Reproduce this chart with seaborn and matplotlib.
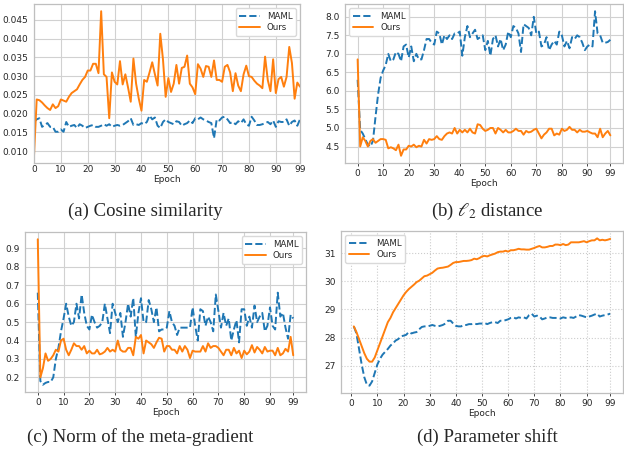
import numpy as np
import pandas as pd
import seaborn as sns
import matplotlib.pyplot as plt
from matplotlib.ticker import MultipleLocator, FormatStrFormatter

# ---- data ----
epochs = list(range(100))
epochs_shift = list(range(1, 100))
xtick_vals = [0, 10, 20, 30, 40, 50, 60, 70, 80, 90, 99]

cos_maml = [0.0178, 0.0185, 0.0188, 0.0165, 0.017, 0.0175, 0.0165, 0.0165, 0.0152, 0.0152,
            0.0158, 0.0152, 0.0178, 0.0165, 0.0168, 0.017, 0.0162, 0.0172, 0.0168, 0.0162,
            0.0165, 0.0168, 0.017, 0.0165, 0.0165, 0.0168, 0.0172, 0.0168, 0.0172, 0.0165,
            0.0168, 0.017, 0.0168, 0.017, 0.0175, 0.018, 0.0188, 0.017, 0.0172, 0.017,
            0.0175, 0.0172, 0.0178, 0.0195, 0.0185, 0.019, 0.0168, 0.0162, 0.0178, 0.0185,
            0.0178, 0.0175, 0.0172, 0.018, 0.0178, 0.0168, 0.0172, 0.0175, 0.0182, 0.0175,
            0.0188, 0.0185, 0.019, 0.0185, 0.0182, 0.0178, 0.0175, 0.0135, 0.0185, 0.0182,
            0.019, 0.0192, 0.0185, 0.0175, 0.0178, 0.0172, 0.018, 0.0175, 0.0185, 0.0172,
            0.0168, 0.0192, 0.0182, 0.017, 0.017, 0.0172, 0.0175, 0.0178, 0.0172, 0.0182,
            0.0165, 0.018, 0.0178, 0.0178, 0.0185, 0.0168, 0.0178, 0.0182, 0.0168, 0.0185]
cos_ours = [0.0088, 0.0238, 0.0236, 0.023, 0.0222, 0.0215, 0.021, 0.0225, 0.0215, 0.022,
            0.0238, 0.0235, 0.0232, 0.0245, 0.0255, 0.026, 0.0265, 0.0278, 0.029, 0.0298,
            0.0315, 0.0315, 0.0333, 0.0333, 0.0308, 0.0473, 0.0305, 0.0298, 0.0188, 0.031,
            0.0285, 0.0278, 0.034, 0.0278, 0.0305, 0.027, 0.0232, 0.0347, 0.028, 0.024,
            0.0208, 0.029, 0.0285, 0.031, 0.0337, 0.0305, 0.0275, 0.0413, 0.0345, 0.0245,
            0.0295, 0.0258, 0.028, 0.033, 0.028, 0.0322, 0.0325, 0.0355, 0.028, 0.027,
            0.0252, 0.0332, 0.032, 0.0298, 0.0327, 0.0325, 0.0298, 0.0342, 0.029, 0.029,
            0.0285, 0.0325, 0.033, 0.031, 0.026, 0.0308, 0.0275, 0.026, 0.0305, 0.0328,
            0.03, 0.0298, 0.0288, 0.028, 0.0275, 0.0268, 0.0352, 0.029, 0.026, 0.0345,
            0.0255, 0.0292, 0.0298, 0.0272, 0.0298, 0.0378, 0.0335, 0.024, 0.0283, 0.0272]

l2_maml = [6.3, 4.95, 4.85, 4.7, 4.55, 4.5, 4.65, 5.3, 5.9, 6.35,
           6.55, 6.7, 7.0, 6.8, 6.85, 7.05, 7.0, 6.8, 7.2, 7.25,
           6.9, 7.2, 6.8, 7.0, 6.85, 6.85, 7.1, 7.4, 7.4, 7.3,
           7.25, 7.6, 7.55, 7.25, 7.5, 7.4, 7.5, 7.4, 7.55, 7.55,
           7.6, 6.95, 7.45, 7.75, 7.45, 7.55, 7.65, 7.4, 7.45, 7.5,
           7.1, 7.35, 6.95, 7.4, 7.5, 7.2, 7.4, 7.1, 7.25, 7.6,
           7.45, 7.75, 7.7, 7.55, 7.05, 7.8, 7.75, 7.7, 7.5, 8.0,
           7.55, 7.6, 7.2, 7.25, 7.45, 7.1, 7.25, 7.35, 7.25, 7.6,
           7.5, 7.2, 7.35, 7.15, 7.45, 7.4, 7.5, 7.45, 7.3, 7.1,
           7.2, 7.25, 7.2, 8.15, 7.55, 7.5, 7.3, 7.3, 7.32, 7.38]
l2_ours = [6.85, 4.5, 4.75, 4.65, 4.5, 4.65, 4.7, 4.6, 4.65, 4.7,
           4.7, 4.68, 4.45, 4.48, 4.45, 4.4, 4.55, 4.25, 4.42, 4.42,
           4.52, 4.5, 4.55, 4.48, 4.52, 4.5, 4.68, 4.58, 4.7, 4.68,
           4.7, 4.78, 4.7, 4.68, 4.78, 4.85, 4.88, 4.85, 5.0, 4.85,
           4.95, 4.88, 4.95, 4.88, 4.98, 4.88, 4.85, 5.1, 5.08, 4.98,
           4.92, 4.95, 5.0, 5.0, 4.85, 5.0, 4.95, 4.88, 4.95, 4.88,
           4.88, 4.92, 4.98, 4.92, 4.92, 4.82, 4.92, 4.88, 4.9, 4.95,
           4.98, 4.85, 4.72, 4.82, 4.88, 4.98, 4.98, 4.8, 4.85, 4.82,
           4.98, 4.92, 4.95, 5.03, 4.95, 4.95, 4.88, 4.95, 4.9, 4.9,
           4.92, 4.88, 4.85, 4.85, 4.75, 4.98, 4.75, 4.85, 4.92, 4.8]

norm_maml = [0.66, 0.18, 0.16, 0.17, 0.175, 0.175, 0.2, 0.3, 0.36, 0.45,
             0.52, 0.6, 0.53, 0.48, 0.5, 0.6, 0.52, 0.65, 0.55, 0.48,
             0.46, 0.54, 0.5, 0.47, 0.48, 0.5, 0.6, 0.52, 0.44, 0.6,
             0.55, 0.5, 0.55, 0.42, 0.5, 0.6, 0.53, 0.63, 0.42, 0.55,
             0.63, 0.5, 0.5, 0.62, 0.57, 0.5, 0.58, 0.45, 0.46, 0.46,
             0.47, 0.56, 0.5, 0.48, 0.43, 0.47, 0.47, 0.47, 0.47, 0.47,
             0.58, 0.48, 0.4, 0.57, 0.56, 0.48, 0.53, 0.5, 0.45, 0.65,
             0.56, 0.47, 0.55, 0.48, 0.52, 0.4, 0.46, 0.51, 0.39, 0.57,
             0.57, 0.48, 0.53, 0.47, 0.59, 0.5, 0.53, 0.55, 0.45, 0.48,
             0.58, 0.48, 0.46, 0.66, 0.53, 0.55, 0.47, 0.41, 0.54, 0.52]
norm_ours = [0.95, 0.2, 0.25, 0.33, 0.29, 0.3, 0.32, 0.35, 0.34, 0.4,
             0.41, 0.35, 0.32, 0.35, 0.385, 0.37, 0.37, 0.35, 0.37, 0.33,
             0.345, 0.33, 0.33, 0.35, 0.325, 0.33, 0.34, 0.36, 0.34, 0.35,
             0.34, 0.4, 0.35, 0.34, 0.34, 0.36, 0.36, 0.32, 0.42, 0.41,
             0.43, 0.33, 0.4, 0.39, 0.38, 0.36, 0.39, 0.415, 0.41, 0.34,
             0.37, 0.37, 0.35, 0.35, 0.33, 0.37, 0.34, 0.37, 0.35, 0.305,
             0.345, 0.34, 0.34, 0.34, 0.37, 0.34, 0.385, 0.36, 0.37, 0.37,
             0.36, 0.34, 0.32, 0.35, 0.35, 0.32, 0.36, 0.33, 0.345, 0.305,
             0.345, 0.325, 0.34, 0.375, 0.335, 0.365, 0.35, 0.33, 0.365, 0.34,
             0.345, 0.345, 0.32, 0.36, 0.32, 0.33, 0.355, 0.34, 0.42, 0.32]

shift_maml = [28.4, 28.15, 27.6, 27.05, 26.6, 26.33, 26.3, 26.45, 26.75,
              27.05, 27.25, 27.4, 27.5, 27.6, 27.72, 27.8, 27.9, 27.95, 28.05,
              28.07, 28.1, 28.2, 28.15, 28.18, 28.2, 28.3, 28.38, 28.4, 28.4,
              28.42, 28.45, 28.42, 28.4, 28.42, 28.45, 28.5, 28.6, 28.6, 28.5,
              28.42, 28.4, 28.4, 28.45, 28.45, 28.48, 28.48, 28.5, 28.48, 28.5,
              28.5, 28.52, 28.48, 28.52, 28.55, 28.55, 28.52, 28.6, 28.6, 28.62,
              28.65, 28.7, 28.72, 28.68, 28.72, 28.7, 28.72, 28.68, 28.8, 28.85,
              28.75, 28.78, 28.75, 28.65, 28.68, 28.72, 28.72, 28.7, 28.7, 28.7,
              28.68, 28.72, 28.7, 28.7, 28.72, 28.7, 28.75, 28.8, 28.78, 28.75,
              28.72, 28.75, 28.78, 28.82, 28.85, 28.75, 28.78, 28.8, 28.82, 28.85]
shift_ours = [28.4, 28.2, 27.95, 27.7, 27.45, 27.25, 27.15, 27.15, 27.3,
              27.55, 27.8, 28.05, 28.3, 28.55, 28.7, 28.9, 29.05, 29.2, 29.35,
              29.5, 29.62, 29.72, 29.8, 29.88, 29.97, 30.02, 30.1, 30.18, 30.2,
              30.25, 30.3, 30.38, 30.45, 30.47, 30.48, 30.5, 30.52, 30.58, 30.65,
              30.68, 30.68, 30.7, 30.72, 30.72, 30.73, 30.75, 30.8, 30.78, 30.82,
              30.88, 30.9, 30.88, 30.92, 30.95, 30.98, 31.03, 31.05, 31.05, 31.08,
              31.05, 31.1, 31.1, 31.12, 31.15, 31.13, 31.13, 31.12, 31.12, 31.15,
              31.18, 31.22, 31.25, 31.2, 31.2, 31.22, 31.25, 31.25, 31.3, 31.3,
              31.28, 31.32, 31.28, 31.3, 31.38, 31.38, 31.38, 31.38, 31.4, 31.42,
              31.38, 31.42, 31.45, 31.45, 31.52, 31.45, 31.47, 31.45, 31.47, 31.5]

captions = ["(a) Cosine similarity", r"(b) $\ell_2$ distance",
            "(c) Norm of the meta-gradient", "(d) Parameter shift"]

sns.set_style("whitegrid", {"axes.edgecolor": ".75", "grid.color": ".82",
                            "xtick.bottom": True, "xtick.color": ".15", "ytick.color": ".15"})
plt.rcParams["mathtext.fontset"] = "stix"

fig = plt.figure(figsize=(6.24, 4.5), dpi=100)
W, H = 624, 450


def add_axes(l, t, r, b):
    return fig.add_axes([l / W, 1 - b / H, (r - l) / W, (b - t) / H])


axes = [add_axes(34, 4, 300, 163), add_axes(345, 4, 623, 163),
        add_axes(25, 232, 306, 392), add_axes(341, 231, 623, 393)]

panels = [(epochs, cos_maml, cos_ours, "upper right", 0.005, "%.3f"),
          (epochs, l2_maml, l2_ours, "upper left", 0.5, "%.1f"),
          (epochs, norm_maml, norm_ours, "upper right", 0.1, "%.1f"),
          (epochs_shift, shift_maml, shift_ours, "upper left", 1, "%d")]

for i, (ax, (x, m, o, loc, step, fmt)) in enumerate(zip(axes, panels)):
    df = pd.DataFrame({"Epoch": x, "MAML": m, "Ours": o})
    sns.lineplot(data=df, x="Epoch", y="MAML", ax=ax, color="#1f77b4",
                 linestyle="--", linewidth=1.4, label="MAML")
    sns.lineplot(data=df, x="Epoch", y="Ours", ax=ax, color="#ff7f0e",
                 linewidth=1.4, label="Ours")
    ax.set_xticks(xtick_vals)
    ax.yaxis.set_major_locator(MultipleLocator(step))
    ax.yaxis.set_major_formatter(FormatStrFormatter(fmt))
    ax.set_ylabel("")
    ax.set_xlabel("Epoch", fontsize=6.5, labelpad=1)
    ax.tick_params(labelsize=6.5, length=2.5, pad=1.5, width=0.6)
    for s in ax.spines.values():
        s.set_linewidth(0.9)
    ax.legend(loc=loc, fontsize=6.2, frameon=True, framealpha=1,
              edgecolor=".85", handlelength=2.4, borderpad=0.4, labelspacing=0.3)
    if i == 0:
        ax.set_xlim(0, 99)
        ax.tick_params(axis="x", length=0)
    if i == 3:
        ax.grid(True, linestyle=":", color=".8")

cap_pos = [(145, 211), (487, 211), (140, 437), (487, 437)]
for (cx, cy), txt in zip(cap_pos, captions):
    fig.text(cx / W, 1 - cy / H, txt, ha="center", va="center",
             fontsize=13.5, family="Liberation Serif")

fig.savefig("out.png", dpi=100)
